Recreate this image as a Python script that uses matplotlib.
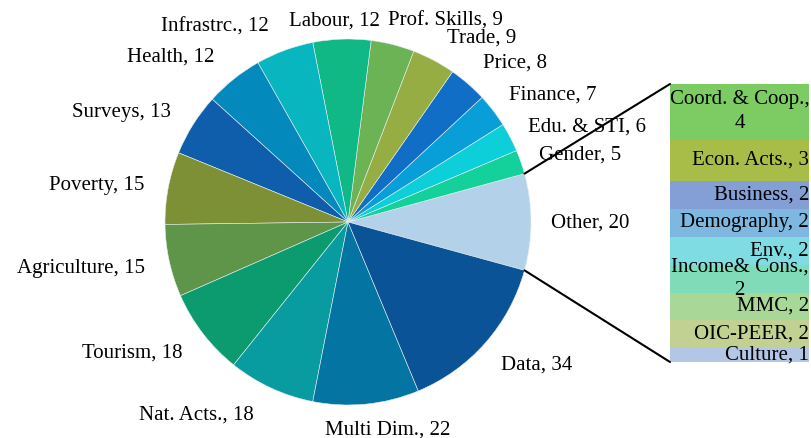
import matplotlib
matplotlib.use('Agg')
import matplotlib.pyplot as plt
from matplotlib.patches import ConnectionPatch
import numpy as np

# pie slices, counter-clockwise starting with the exploded "Other" slice
pie_labels = ['Other', 'Gender', 'Edu. & STI', 'Finance', 'Price', 'Trade',
              'Prof. Skills', 'Labour', 'Infrastrc.', 'Health', 'Surveys',
              'Poverty', 'Agriculture', 'Tourism', 'Nat. Acts.', 'Multi Dim.',
              'Data']
pie_values = [20, 5, 6, 7, 8, 9, 9, 12, 12, 12, 13, 15, 15, 18, 18, 22, 34]
pie_colors = ['#b3d1e9', '#14d09b', '#0ccfd9', '#089fd8', '#116ec6', '#95ad43',
              '#6cb356', '#10b886', '#08b6c0', '#0489bd', '#0e5eab', '#7d9036',
              '#5f9548', '#0b9b6f', '#089ba0', '#0474a3', '#0a5396']

# breakdown of "Other", top to bottom
bar_labels = ['Coord. & Coop.,\n4', 'Econ. Acts.', 'Business', 'Demography',
              'Env.', 'Income& Cons.,\n2', 'MMC', 'OIC-PEER', 'Culture']
bar_values = [4, 3, 2, 2, 2, 2, 2, 2, 1]
bar_colors = ['#7dcb63', '#a8bd48', '#839fd6', '#7eb7e0', '#7fdce2',
              '#80dbb9', '#a7d897', '#c2d192', '#b4c6e6']

# label centres in pixels (x, y from top), same order as pie_labels
label_pos = [(590, 223), (580, 155), (587, 127), (553, 95), (515, 63),
             (482, 38), (445, 21), (334, 21), (215, 27), (171, 57),
             (122, 112), (97, 185), (81, 268), (132, 353), (196, 415),
             (388, 430), (537, 365)]

W, H = 812, 438
plt.rcParams['font.family'] = ['Liberation Serif', 'DejaVu Serif']
FS = 15

fig = plt.figure(figsize=(W / 100, H / 100), dpi=100)
ax = fig.add_axes([0, 0, 1, 1])
ax.set_xlim(0, W)
ax.set_ylim(0, H)
ax.set_aspect('equal')
ax.axis('off')

cx, cy, r = 348, H - 222, 183
total = sum(pie_values)
start = -360 * pie_values[0] / total / 2
wedges, _ = ax.pie(pie_values, colors=pie_colors, startangle=start,
                   center=(cx, cy), radius=r, counterclock=True,
                   wedgeprops=dict(edgecolor='#e8f0f0', linewidth=0.4))
ax.set_xlim(0, W)
ax.set_ylim(0, H)

for lab, val, (x, y) in zip(pie_labels, pie_values, label_pos):
    ax.text(x, H - y, f'{lab}, {val}', ha='center', va='center', fontsize=FS)

# stacked bar of the "Other" breakdown
bx0, bx1, by0, by1 = 670, 809, 84, 362
ax2 = fig.add_axes([bx0 / W, (H - by1) / H, (bx1 - bx0) / W, (by1 - by0) / H])
ax2.set_xlim(0, 1)
ax2.set_ylim(0, sum(bar_values))
ax2.axis('off')
bottom = sum(bar_values)
for lab, val, col in zip(bar_labels, bar_values, bar_colors):
    bottom -= val
    ax2.bar(0.5, val, width=1, bottom=bottom, color=col, linewidth=0)
    yc = bottom + val / 2
    if '\n' in lab:
        ax2.text(0.5, yc, lab, ha='center', va='center', fontsize=FS,
                 linespacing=1.35)
    else:
        ax2.text(1.0, yc, f'{lab}, {val}', ha='right', va='center',
                 fontsize=FS)

# connector lines from the "Other" slice to the bar
other = wedges[0]
for ang, ybar in [(other.theta2, 1), (other.theta1, 0)]:
    px = cx + r * np.cos(np.radians(ang))
    py = cy + r * np.sin(np.radians(ang))
    con = ConnectionPatch(xyA=(px, py), coordsA=ax.transData,
                          xyB=(0, ybar), coordsB=ax2.transAxes,
                          color='black', linewidth=1.5)
    fig.add_artist(con)

fig.savefig('out.png', dpi=100)
